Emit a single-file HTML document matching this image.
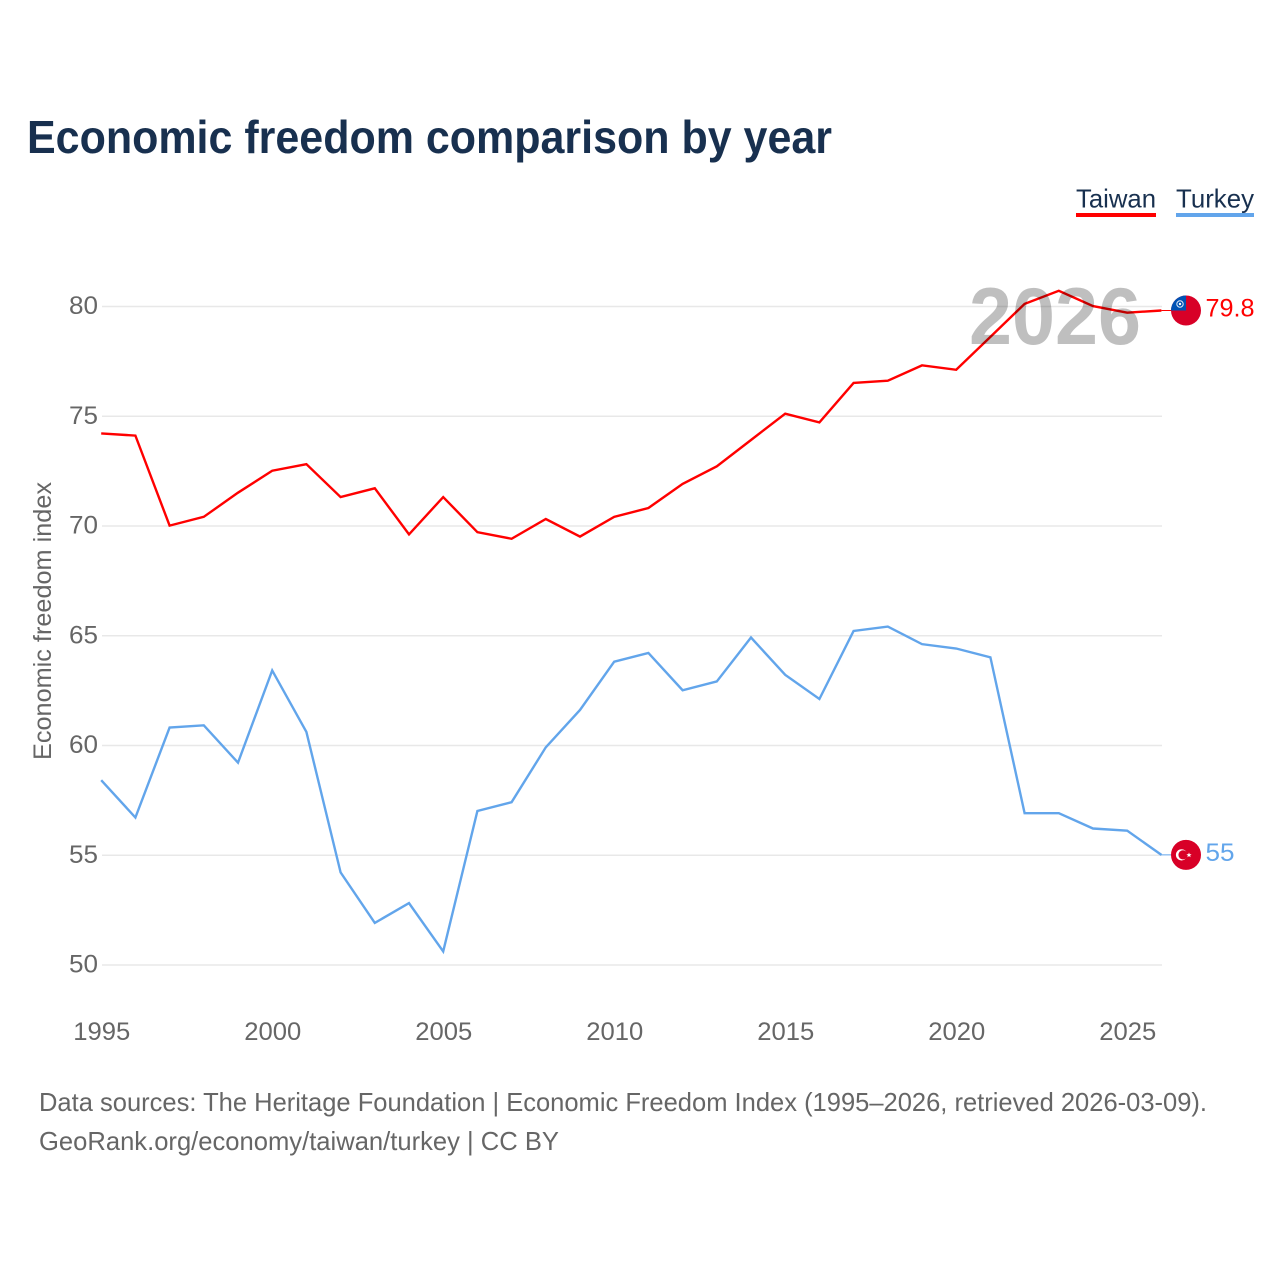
<!DOCTYPE html>
<html lang="en">
<head>
<meta charset="utf-8">
<title>Economic freedom comparison by year</title>
<style>
html,body{margin:0;padding:0;background:#fff;width:1280px;height:1280px;overflow:hidden}
svg{display:block;font-family:"Liberation Sans",sans-serif}
</style>
</head>
<body>
<svg id="chart" xmlns="http://www.w3.org/2000/svg" width="1280" height="1280" viewBox="0 0 1280 1280">
  <text x="27" y="153" font-size="46" font-weight="700" fill="#18304f" textLength="805" lengthAdjust="spacingAndGlyphs">Economic freedom comparison by year</text>

  <g>
    <text x="1076" y="207.5" font-size="26" fill="#18304f" textLength="80" lengthAdjust="spacingAndGlyphs">Taiwan</text>
    <rect x="1076" y="213" width="80" height="4" fill="#ff0000"/>
  </g>
  <g>
    <text x="1176" y="207.5" font-size="26" fill="#18304f" textLength="78" lengthAdjust="spacingAndGlyphs">Turkey</text>
    <rect x="1176" y="213" width="78" height="4" fill="#62a5eb"/>
  </g>

  <g id="grid"></g>
  <g id="yticks"></g>
  <g id="xticks"></g>

  <text transform="translate(51,621) rotate(-90)" text-anchor="middle" font-size="25" fill="#666" textLength="278" lengthAdjust="spacingAndGlyphs">Economic freedom index</text>

  <g id="series"></g>

  <text x="969" y="344" font-size="81" font-weight="700" fill="#000" fill-opacity="0.25" textLength="172" lengthAdjust="spacingAndGlyphs">2026</text>

  <g id="ends"></g>

  <text x="39" y="1111" font-size="26" fill="#666" textLength="1168" lengthAdjust="spacingAndGlyphs">Data sources: The Heritage Foundation | Economic Freedom Index (1995–2026, retrieved 2026-03-09).</text>
  <text x="39" y="1150" font-size="26" fill="#666" textLength="520" lengthAdjust="spacingAndGlyphs">GeoRank.org/economy/taiwan/turkey | CC BY</text>
</svg>
<script>
const years = [1995,1996,1997,1998,1999,2000,2001,2002,2003,2004,2005,2006,2007,2008,2009,2010,2011,2012,2013,2014,2015,2016,2017,2018,2019,2020,2021,2022,2023,2024,2025,2026];
const taiwanValues = [74.2,74.1,70.0,70.4,71.5,72.5,72.8,71.3,71.7,69.6,71.3,69.7,69.4,70.3,69.5,70.4,70.8,71.9,72.7,73.9,75.1,74.7,76.5,76.6,77.3,77.1,78.6,80.1,80.7,80.0,79.7,79.8];
const turkeyValues = [58.4,56.7,60.8,60.9,59.2,63.4,60.6,54.2,51.9,52.8,50.6,57.0,57.4,59.9,61.6,63.8,64.2,62.5,62.9,64.9,63.2,62.1,65.2,65.4,64.6,64.4,64.0,56.9,56.9,56.2,56.1,55.0];
const yTickValues = [50,55,60,65,70,75,80];
const xTickValues = [1995,2000,2005,2010,2015,2020,2025];
const taiwanEndLabel = "79.8";
const turkeyEndLabel = "55";

const NS = 'http://www.w3.org/2000/svg';
const xScale = function (year) { return 101.2 + (year - 1995) * (1127.2 - 101.2) / 30; };
const yScale = function (value) { return 964.6 - (value - 50) * (964.6 - 306.1) / 30; };
const make = function (tag, attrs, parent, text) {
  const el = document.createElementNS(NS, tag);
  for (const k in attrs) el.setAttribute(k, attrs[k]);
  if (text !== undefined) el.textContent = text;
  parent.appendChild(el);
  return el;
};

const grid = document.getElementById('grid');
const yticks = document.getElementById('yticks');
const xticks = document.getElementById('xticks');
const series = document.getElementById('series');
const ends = document.getElementById('ends');

yTickValues.forEach(function (v) {
  const y = yScale(v);
  const line = make('line', {x1: 102, x2: 1162, y1: y + 0.4, y2: y + 0.4, stroke: '#e8e8e8', 'stroke-width': 1.5}, grid);
  
  
  const label = make('text', {x: 98, y: y + 8, 'text-anchor': 'end', 'font-size': 25, fill: '#666', textLength: 29, lengthAdjust: 'spacingAndGlyphs'}, yticks, String(v));
  
  
});

xTickValues.forEach(function (v) {
  const label = make('text', {x: xScale(v) + 0.6, y: 1040, 'text-anchor': 'middle', 'font-size': 25, fill: '#666', textLength: 57, lengthAdjust: 'spacingAndGlyphs'}, xticks, String(v));
  
  
});

const pointsFor = function (values) {
  return values.map(function (v, i) { return xScale(years[i]).toFixed(2) + ',' + yScale(v).toFixed(2); }).join(' ');
};

const taiwanLine = make('polyline', {points: pointsFor(taiwanValues), fill: 'none', stroke: '#ff0000', 'stroke-width': 2.4, 'stroke-linejoin': 'miter'}, series);



const turkeyLine = make('polyline', {points: pointsFor(turkeyValues), fill: 'none', stroke: '#62a5eb', 'stroke-width': 2.4, 'stroke-linejoin': 'miter'}, series);



const lastYear = years[years.length - 1];
const twY = yScale(taiwanValues[taiwanValues.length - 1]);
const tkY = yScale(turkeyValues[turkeyValues.length - 1]);
const markerX = 1186;

const twConn = make('line', {x1: xScale(lastYear), x2: markerX, y1: twY, y2: twY, stroke: '#ff0000', 'stroke-width': 1}, ends);



const tkConn = make('line', {x1: xScale(lastYear), x2: markerX, y1: tkY, y2: tkY, stroke: '#62a5eb', 'stroke-width': 1}, ends);



/* Taiwan flag marker */
const twFlag = make('g', {transform: 'translate(' + markerX + ',' + twY + ')'}, ends);


make('circle', {r: 15, fill: '#d80027'}, twFlag);
make('path', {d: 'M0,-15 A15,15 0 0 0 -15,0 L0,0 Z', fill: '#0052b4'}, twFlag);
make('circle', {cx: -6, cy: -6.5, r: 3.2, fill: 'none', stroke: '#dfe9f6', 'stroke-width': 1}, twFlag);
make('circle', {cx: -6, cy: -6.5, r: 1.2, fill: '#fff'}, twFlag);

/* Turkey flag marker */
const tkFlag = make('g', {transform: 'translate(' + markerX + ',' + tkY + ')'}, ends);


make('circle', {r: 15, fill: '#d80027'}, tkFlag);
make('circle', {cx: -4.5, cy: 0, r: 5.6, fill: '#fff'}, tkFlag);
make('circle', {cx: -3, cy: 0, r: 4.6, fill: '#d80027'}, tkFlag);
make('path', {d: 'M3,-2.4 L3.7,-0.6 L5.6,-0.6 L4.1,0.6 L4.7,2.4 L3,1.3 L1.3,2.4 L1.9,0.6 L0.4,-0.6 L2.3,-0.6 Z', fill: '#fff'}, tkFlag);

const twLabel = make('text', {x: 1205.5, y: twY + 6, 'font-size': 25, fill: '#ff0000', textLength: 49, lengthAdjust: 'spacingAndGlyphs'}, ends, taiwanEndLabel);



const tkLabel = make('text', {x: 1205.5, y: tkY + 6, 'font-size': 25, fill: '#62a5eb', textLength: 29, lengthAdjust: 'spacingAndGlyphs'}, ends, turkeyEndLabel);


</script>
</body>
</html>
